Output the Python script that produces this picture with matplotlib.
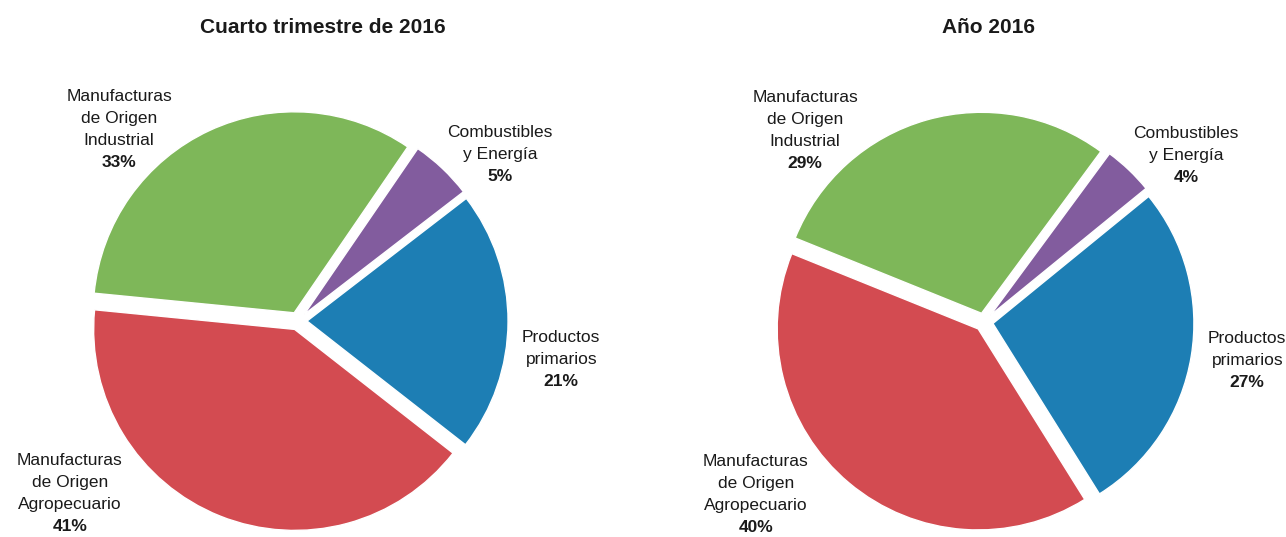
import matplotlib
matplotlib.use('Agg')
import matplotlib.pyplot as plt

plt.rcParams['font.family'] = ['Liberation Sans', 'DejaVu Sans']

# datos
categorias = ["Productos\nprimarios", "Combustibles\ny Energía",
              "Manufacturas\nde Origen\nIndustrial", "Manufacturas\nde Origen\nAgropecuario"]
q4_2016 = [21, 5, 33, 41]
anio_2016 = [27, 4, 29, 40]
titulos = ["Cuarto trimestre de 2016", "Año 2016"]
colores = ['#1d7eb4', '#825c9e', '#7eb759', '#d34b51']

# posicion de las etiquetas (centro del bloque, en radios)
pos_etiquetas = [(1.31, -0.19), (1.005, 0.83), (-0.89, 0.955), (-1.135, -0.86)]
angulos_inicio = [-38, -58]

W, H = 1286, 537
R = 201.0  # px por unidad
fig = plt.figure(figsize=(W / 100, H / 100), dpi=100)

centros = [(298, 216), (984, 215)]
rects = [(0, 643), (643, 1286)]
series = [q4_2016, anio_2016]
titulo_x = [323, 988]

for i in range(2):
    x0, x1 = rects[i]
    cx, cy = centros[i]
    ax = fig.add_axes([x0 / W, 0, (x1 - x0) / W, 1])
    vals = series[i]
    ax.pie(vals, colors=colores, startangle=angulos_inicio[i], counterclock=True,
           explode=[0.045] * len(vals), radius=1,
           wedgeprops=dict(edgecolor='white', linewidth=1.0))
    ax.set_aspect('auto')
    ax.set_xlim((x0 - cx) / R, (x1 - cx) / R)
    ax.set_ylim((0 - cy) / R, (H - cy) / R)
    ax.axis('off')

    paso = 22.0 / R
    for cat, v, (px, py) in zip(categorias, vals, pos_etiquetas):
        lineas = cat.split("\n") + [f"{v}%"]
        n = len(lineas)
        for k, linea in enumerate(lineas):
            y = py + ((n - 1) / 2 - k) * paso
            ax.text(px, y, linea, ha='center', va='center', fontsize=12.5,
                    fontweight='bold' if k == n - 1 else 'normal', color='#1a1a1a')

    fig.text(titulo_x[i] / W, 1 - 28 / H, titulos[i], ha='center', va='center',
             fontsize=15, fontweight='bold', color='#1a1a1a')

fig.savefig("out.png", dpi=100)
